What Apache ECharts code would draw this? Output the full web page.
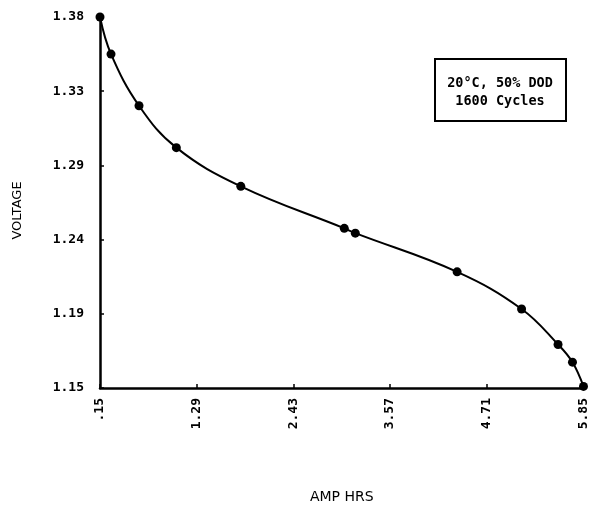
<!DOCTYPE html>
<html>
<head>
<meta charset="utf-8">
<script src="https://cdn.jsdelivr.net/npm/echarts@6/dist/echarts.min.js"></script>
<style>html,body{margin:0;padding:0;background:#fff;}#c{width:590px;height:509px;}</style>
</head>
<body>
<div id="c"></div>
<script>
var ampHrs  = [0.15, 0.28, 0.61, 1.05, 1.81, 3.03, 3.16, 4.36, 5.12, 5.55, 5.72, 5.85];
var voltage = [1.380, 1.357, 1.325, 1.299, 1.275, 1.249, 1.246, 1.222, 1.199, 1.177, 1.166, 1.151];
var xTickValues = [0.15, 1.29, 2.43, 3.57, 4.71, 5.85];
var xTickLabels = ['.15', '1.29', '2.43', '3.57', '4.71', '5.85'];
var yTickValues = [1.15, 1.196, 1.242, 1.288, 1.334, 1.38];
var yTickLabels = ['1.15', '1.19', '1.24', '1.29', '1.33', '1.38'];
var legendLines = ['20°C, 50% DOD', '1600 Cycles'];

var pts = ampHrs.map(function (x, i) { return [x, voltage[i]]; });
function lab(vals, labels) {
  return function (v) {
    for (var i = 0; i < vals.length; i++) if (Math.abs(vals[i] - v) < 1e-6) return labels[i];
    return '';
  };
}
var mono = 'DejaVu Sans Mono';
var chart = echarts.init(document.getElementById('c'), null, {renderer: 'canvas'});
chart.setOption({
  animation: false,
  backgroundColor: '#fff',
  grid: {left: 100, right: 4, top: 17, bottom: 119, containLabel: false},
  xAxis: {
    type: 'value', min: 0.15, max: 5.85,
    name: 'AMP HRS', nameLocation: 'middle', nameGap: 102,
    nameTextStyle: {fontFamily: 'DejaVu Sans', fontSize: 14, color: '#000'},
    axisLine: {show: true, lineStyle: {color: '#000', width: 2.5}},
    axisTick: {show: true, inside: true, length: 4, customValues: xTickValues, lineStyle: {color: '#000', width: 1.5}},
    axisLabel: {customValues: xTickValues, rotate: 90, margin: 10, formatter: lab(xTickValues, xTickLabels),
      fontFamily: mono, fontWeight: 'bold', fontSize: 13, color: '#000'},
    splitLine: {show: false}
  },
  yAxis: {
    type: 'value', min: 1.15, max: 1.38,
    name: 'VOLTAGE', nameLocation: 'middle', nameGap: 76,
    nameTextStyle: {fontFamily: 'DejaVu Sans', fontSize: 13, color: '#000', padding: [0, 16, 0, 0]},
    axisLine: {show: true, lineStyle: {color: '#000', width: 2.5}},
    axisTick: {show: true, inside: true, length: 4, customValues: yTickValues, lineStyle: {color: '#000', width: 1.5}},
    axisLabel: {customValues: yTickValues, margin: 16, formatter: lab(yTickValues, yTickLabels),
      fontFamily: mono, fontWeight: 'bold', fontSize: 13, color: '#000'},
    splitLine: {show: false}
  },
  series: [
    {type: 'line', data: pts, smooth: 0.4, showSymbol: false, lineStyle: {color: '#000', width: 2}, z: 2},
    {type: 'scatter', data: pts, symbol: 'circle', symbolSize: 9, itemStyle: {color: '#000', opacity: 1}, z: 3}
  ],
  graphic: [
    {type: 'rect', shape: {x: 435, y: 59, width: 131, height: 62}, style: {fill: '#fff', stroke: '#000', lineWidth: 2}, z: 10},
    {type: 'text', x: 500, y: 83, style: {text: legendLines[0], fontFamily: mono, fontWeight: 'bold', fontSize: 13.5, fill: '#000', align: 'center', verticalAlign: 'middle'}, z: 11},
    {type: 'text', x: 500, y: 101, style: {text: legendLines[1], fontFamily: mono, fontWeight: 'bold', fontSize: 13.5, fill: '#000', align: 'center', verticalAlign: 'middle'}, z: 11}
  ]
});
</script>
</body>
</html>
